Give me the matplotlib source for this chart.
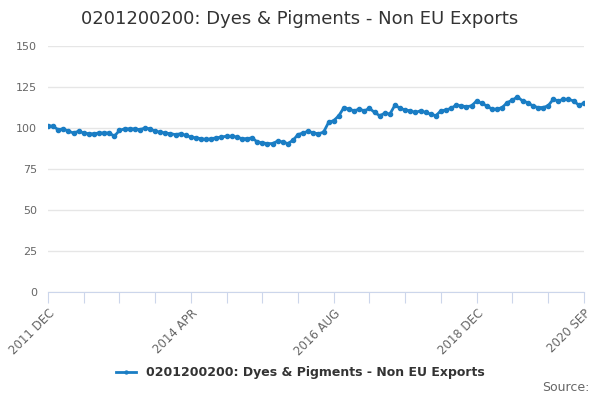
import matplotlib.pyplot as plt

# monthly values, 2011 DEC .. 2020 SEP
months = ['DEC', 'JAN', 'FEB', 'MAR', 'APR', 'MAY', 'JUN',
          'JUL', 'AUG', 'SEP', 'OCT', 'NOV']
start_year = 2011
values = [
    101.5,
    101.0, 99.0, 99.5, 98.0, 97.0, 98.0, 97.0, 96.5, 96.5, 97.0, 97.0, 97.0,
    95.0, 98.5, 99.5, 99.5, 99.5, 99.0, 100.0, 99.5, 98.0, 97.5, 97.0, 96.5,
    96.0, 96.5, 95.5, 94.5, 94.0, 93.5, 93.0, 93.5, 94.0, 94.5, 95.0, 95.0,
    94.5, 93.5, 93.5, 94.0, 91.5, 91.0, 90.5, 90.5, 92.0, 91.5, 90.5, 92.5,
    96.0, 97.0, 98.0, 97.0, 96.5, 97.5, 103.5, 104.5, 107.5, 112.5, 111.5, 110.5,
    111.5, 110.5, 112.0, 109.5, 107.5, 109.0, 108.5, 114.0, 112.0, 111.0, 110.5, 109.5,
    110.5, 109.5, 108.5, 107.5, 110.5, 111.0, 112.0, 114.0, 113.5, 113.0, 113.5, 116.5,
    115.0, 113.5, 111.5, 111.5, 112.5, 115.5, 117.0, 119.0, 116.5, 115.5, 113.5, 112.5,
    112.5, 113.5, 117.5, 116.5, 117.5, 117.5, 116.5, 114.0, 115.0,
]
label_idx = [0, 28, 56, 84, 105]
title = '0201200200: Dyes & Pigments - Non EU Exports'


def month_label(i):
    # index 0 is december of start_year
    year = start_year + (i + 11) // 12
    return '%d %s' % (year, months[i % 12])


plt.rcParams.update({'font.family': 'DejaVu Sans', 'font.size': 8})

fig = plt.figure(figsize=(6, 4), dpi=100)
ax = fig.add_axes([0.08, 0.27, 0.893, 0.615])

x = list(range(len(values)))
ax.plot(x, values, color='#1a7dc4', linewidth=2, marker='o', markersize=3,
        label=title, zorder=3)

ax.set_xlim(0, len(values) - 1)
ax.set_ylim(0, 150)
ax.set_yticks(range(0, 151, 25))
ax.grid(axis='y', color='#e6e6e6', linewidth=1)
ax.set_axisbelow(True)

ax.set_xticks(range(0, len(values), 7))
ax.set_xticklabels(['' for _ in range(0, len(values), 7)])
for i in label_idx:
    ax.text(i, -9, month_label(i), rotation=45, ha='right', va='top',
            rotation_mode='anchor', color='#666666', fontsize=8.5,
            transform=ax.transData)

for side in ['top', 'right', 'left']:
    ax.spines[side].set_visible(False)
ax.spines['bottom'].set_color('#ccd6eb')
ax.tick_params(axis='x', length=8, color='#ccd6eb', direction='out')
ax.tick_params(axis='y', length=0, colors='#666666', labelsize=8, pad=8)

fig.suptitle(title, x=0.5, y=0.975, fontsize=13, color='#333333')

leg = fig.legend(loc='center', bbox_to_anchor=(0.5, 0.068), frameon=False,
                 prop={'weight': 'bold', 'size': 9}, handlelength=1.6,
                 markerscale=0.7)
for t in leg.get_texts():
    t.set_color('#333333')

fig.text(0.982, 0.015, 'Source:', ha='right', va='bottom', color='#666666',
         fontsize=9)

fig.savefig('out.png', dpi=100)
